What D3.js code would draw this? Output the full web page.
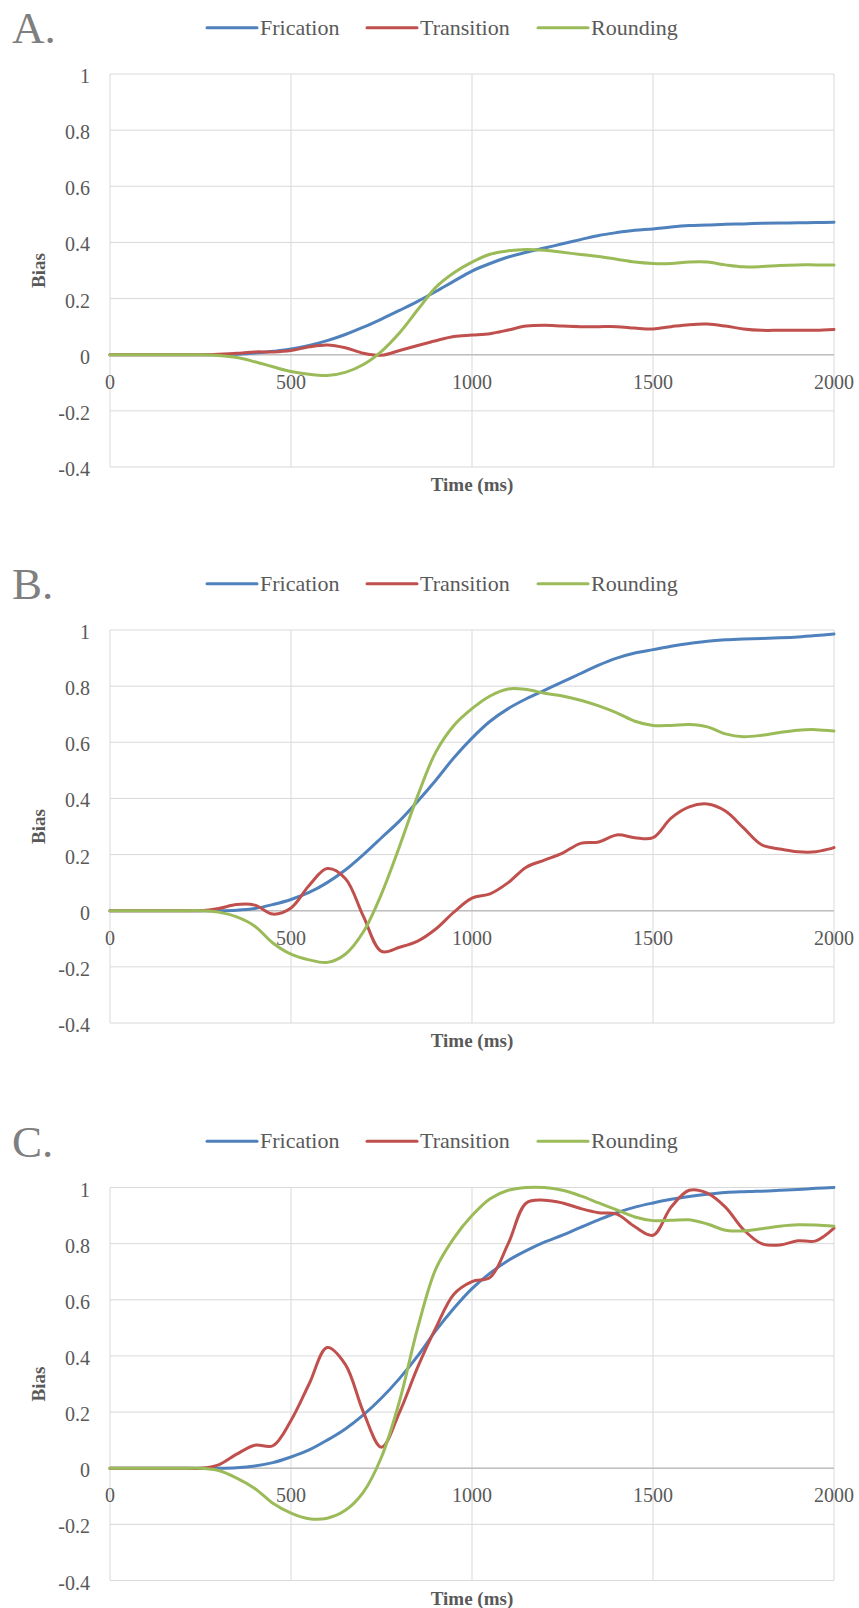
<!DOCTYPE html>
<html>
<head>
<meta charset="utf-8">
<script src="https://cdn.jsdelivr.net/npm/d3@7"></script>
<style>
  html, body { margin: 0; padding: 0; background: #ffffff; }
  svg { display: block; }
</style>
</head>
<body>
<svg id="chart" width="859" height="1608"></svg>
<script>
// ---------------- DATA ----------------
const panelLabels = ["A.", "B.", "C."];
const seriesNames = ["Frication", "Transition", "Rounding"];
const xTickValues = [0, 500, 1000, 1500, 2000];
const xTickLabels = ["0", "500", "1000", "1500", "2000"];
const yTickValues = [1, 0.8, 0.6, 0.4, 0.2, 0, -0.2, -0.4];
const yTickLabels = ["1", "0.8", "0.6", "0.4", "0.2", "0", "-0.2", "-0.4"];
const xTitle = "Time (ms)";
const yTitle = "Bias";

// time points (ms), shared by every series
const timeMs = [0,50,100,150,200,250,300,350,400,450,500,550,600,650,700,750,800,850,900,950,
  1000,1050,1100,1150,1200,1250,1300,1350,1400,1450,1500,1550,1600,1650,1700,1750,1800,1850,1900,1950,2000];

// Panel A
const fricationA = [0,0,0,0,0,0,0,0.002,0.006,0.012,0.02,0.033,0.05,0.072,0.098,0.127,0.158,0.19,0.225,0.262,
  0.298,0.325,0.348,0.365,0.38,0.395,0.41,0.425,0.435,0.443,0.448,0.455,0.46,0.462,0.465,0.466,0.468,0.469,0.47,0.471,0.472];
const transitionA = [0,0,0,0,0,0,0.002,0.005,0.01,0.01,0.015,0.028,0.035,0.025,0.005,-0.002,0.015,0.033,0.05,0.065,
  0.07,0.075,0.088,0.102,0.105,0.102,0.1,0.1,0.1,0.095,0.092,0.1,0.107,0.109,0.102,0.092,0.087,0.087,0.087,0.087,0.09];
const roundingA = [0,0,0,0,0,0,-0.003,-0.01,-0.025,-0.043,-0.06,-0.07,-0.074,-0.063,-0.035,0.012,0.078,0.16,0.24,0.292,
  0.33,0.358,0.37,0.375,0.372,0.365,0.357,0.35,0.34,0.33,0.325,0.325,0.33,0.33,0.32,0.313,0.314,0.318,0.32,0.32,0.32];

// Panel B
const fricationB = [0,0,0,0,0,0,0,0.002,0.008,0.022,0.04,0.065,0.1,0.145,0.2,0.26,0.32,0.39,0.465,0.545,
  0.615,0.675,0.72,0.755,0.785,0.815,0.845,0.875,0.9,0.918,0.93,0.942,0.952,0.96,0.965,0.968,0.97,0.972,0.975,0.98,0.986];
const transitionB = [0,0,0,0,0,0,0.008,0.022,0.02,-0.012,0.01,0.09,0.15,0.115,-0.02,-0.145,-0.13,-0.108,-0.065,-0.005,
  0.045,0.06,0.1,0.155,0.18,0.205,0.24,0.245,0.27,0.26,0.26,0.33,0.37,0.38,0.355,0.295,0.235,0.22,0.21,0.21,0.225];
const roundingB = [0,0,0,0,0,0,-0.005,-0.022,-0.055,-0.115,-0.155,-0.175,-0.184,-0.155,-0.075,0.06,0.23,0.41,0.565,0.66,
  0.72,0.765,0.79,0.788,0.775,0.765,0.75,0.73,0.705,0.675,0.66,0.66,0.663,0.655,0.63,0.62,0.625,0.635,0.643,0.645,0.64];

// Panel C
const fricationC = [0,0,0,0,0,0,0,0.002,0.008,0.02,0.04,0.065,0.1,0.14,0.19,0.25,0.32,0.4,0.49,0.57,
  0.64,0.695,0.74,0.775,0.805,0.83,0.858,0.885,0.91,0.93,0.945,0.958,0.968,0.976,0.982,0.985,0.987,0.99,0.993,0.997,1.0];
const transitionC = [0,0,0,0,0,0,0.012,0.05,0.082,0.08,0.17,0.3,0.43,0.37,0.2,0.075,0.2,0.36,0.5,0.62,
  0.665,0.68,0.8,0.945,0.955,0.945,0.925,0.91,0.905,0.86,0.83,0.93,0.99,0.98,0.93,0.85,0.8,0.795,0.81,0.81,0.855];
const roundingC = [0,0,0,0,0,0,-0.008,-0.035,-0.072,-0.125,-0.16,-0.18,-0.178,-0.15,-0.085,0.04,0.24,0.5,0.71,0.82,
  0.9,0.96,0.99,1.0,1.0,0.99,0.97,0.945,0.92,0.895,0.882,0.883,0.885,0.87,0.848,0.845,0.853,0.862,0.867,0.866,0.862];

const panelSeries = [
  [fricationA, transitionA, roundingA],
  [fricationB, transitionB, roundingB],
  [fricationC, transitionC, roundingC]
];

// ---------------- STYLE / LAYOUT ----------------
const colors = ["#4F81BD", "#C0504D", "#9BBB59"];
const serif = "'Liberation Serif', 'Times New Roman', serif";
const plotLeft = 110, plotRight = 834, plotH = 393;
const panelTops = [74, 630, 1187.5];
const legendLineX = [207, 367, 538];
const textColor = "#595959";

const svg = d3.select("#chart");

const x = d3.scaleLinear().domain([0, 2000]).range([plotLeft, plotRight]);

panelTops.forEach((top, p) => {
  const g = svg.append("g");
  const y = d3.scaleLinear().domain([-0.4, 1]).range([top + plotH, top]);

  // horizontal gridlines
  g.append("g").selectAll("line").data(yTickValues).join("line")
    .attr("x1", plotLeft).attr("x2", plotRight)
    .attr("y1", d => y(d)).attr("y2", d => y(d))
    .attr("stroke", "#d9d9d9").attr("stroke-width", 1);

  // vertical gridlines
  g.append("g").selectAll("line").data(xTickValues).join("line")
    .attr("x1", d => x(d)).attr("x2", d => x(d))
    .attr("y1", top).attr("y2", top + plotH)
    .attr("stroke", "#d9d9d9").attr("stroke-width", 1);

  // zero axis line
  g.append("line")
    .attr("x1", plotLeft).attr("x2", plotRight)
    .attr("y1", y(0)).attr("y2", y(0))
    .attr("stroke", "#bfbfbf").attr("stroke-width", 1.5);

  // y tick labels
  g.append("g").selectAll("text").data(yTickValues).join("text")
    .attr("x", 90).attr("y", d => y(d) + 2)
    .attr("dy", "0.35em")
    .attr("text-anchor", "end")
    .attr("font-family", serif).attr("font-size", 20)
    .attr("fill", textColor)
    .text((d, i) => yTickLabels[i]);

  // x tick labels (below zero line)
  g.append("g").selectAll("text").data(xTickValues).join("text")
    .attr("x", d => x(d)).attr("y", y(0) + 27)
    .attr("dy", "0.35em")
    .attr("text-anchor", "middle")
    .attr("font-family", serif).attr("font-size", 20)
    .attr("fill", textColor)
    .text((d, i) => xTickLabels[i]);

  // axis titles
  g.append("text")
    .attr("x", (plotLeft + plotRight) / 2).attr("y", top + plotH + 24)
    .attr("text-anchor", "middle")
    .attr("font-family", serif).attr("font-size", 19).attr("font-weight", "bold")
    .attr("fill", textColor)
    .text(xTitle);

  g.append("text")
    .attr("transform", `translate(38.5, ${top + plotH / 2}) rotate(-90)`)
    .attr("dy", "0.35em")
    .attr("text-anchor", "middle")
    .attr("font-family", serif).attr("font-size", 19).attr("font-weight", "bold")
    .attr("fill", textColor)
    .text(yTitle);

  // panel label
  g.append("text")
    .attr("x", 12).attr("y", top - 31)
    .attr("font-family", serif).attr("font-size", 45)
    .attr("fill", "#7f7f7f")
    .text(panelLabels[p]);

  // legend
  const ly = top - 46.3;
  seriesNames.forEach((name, i) => {
    g.append("line")
      .attr("x1", legendLineX[i]).attr("x2", legendLineX[i] + 50)
      .attr("y1", ly).attr("y2", ly)
      .attr("stroke", colors[i]).attr("stroke-width", 3).attr("stroke-linecap", "round");
    g.append("text")
      .attr("x", legendLineX[i] + 53).attr("y", ly + 7)
      .attr("font-family", serif).attr("font-size", 22)
      .attr("fill", textColor)
      .text(name);
  });

  // series lines (smoothed, like the spreadsheet's smoothed lines)
  const line = d3.line()
    .x((d, i) => x(timeMs[i]))
    .y(d => y(d))
    .curve(d3.curveCatmullRom.alpha(0.5));

  panelSeries[p].forEach((vals, i) => {
    g.append("path")
      .datum(vals)
      .attr("d", line)
      .attr("fill", "none")
      .attr("stroke", colors[i])
      .attr("stroke-width", 3)
      .attr("stroke-linejoin", "round")
      .attr("stroke-linecap", "round");
  });
});
</script>
</body>
</html>
